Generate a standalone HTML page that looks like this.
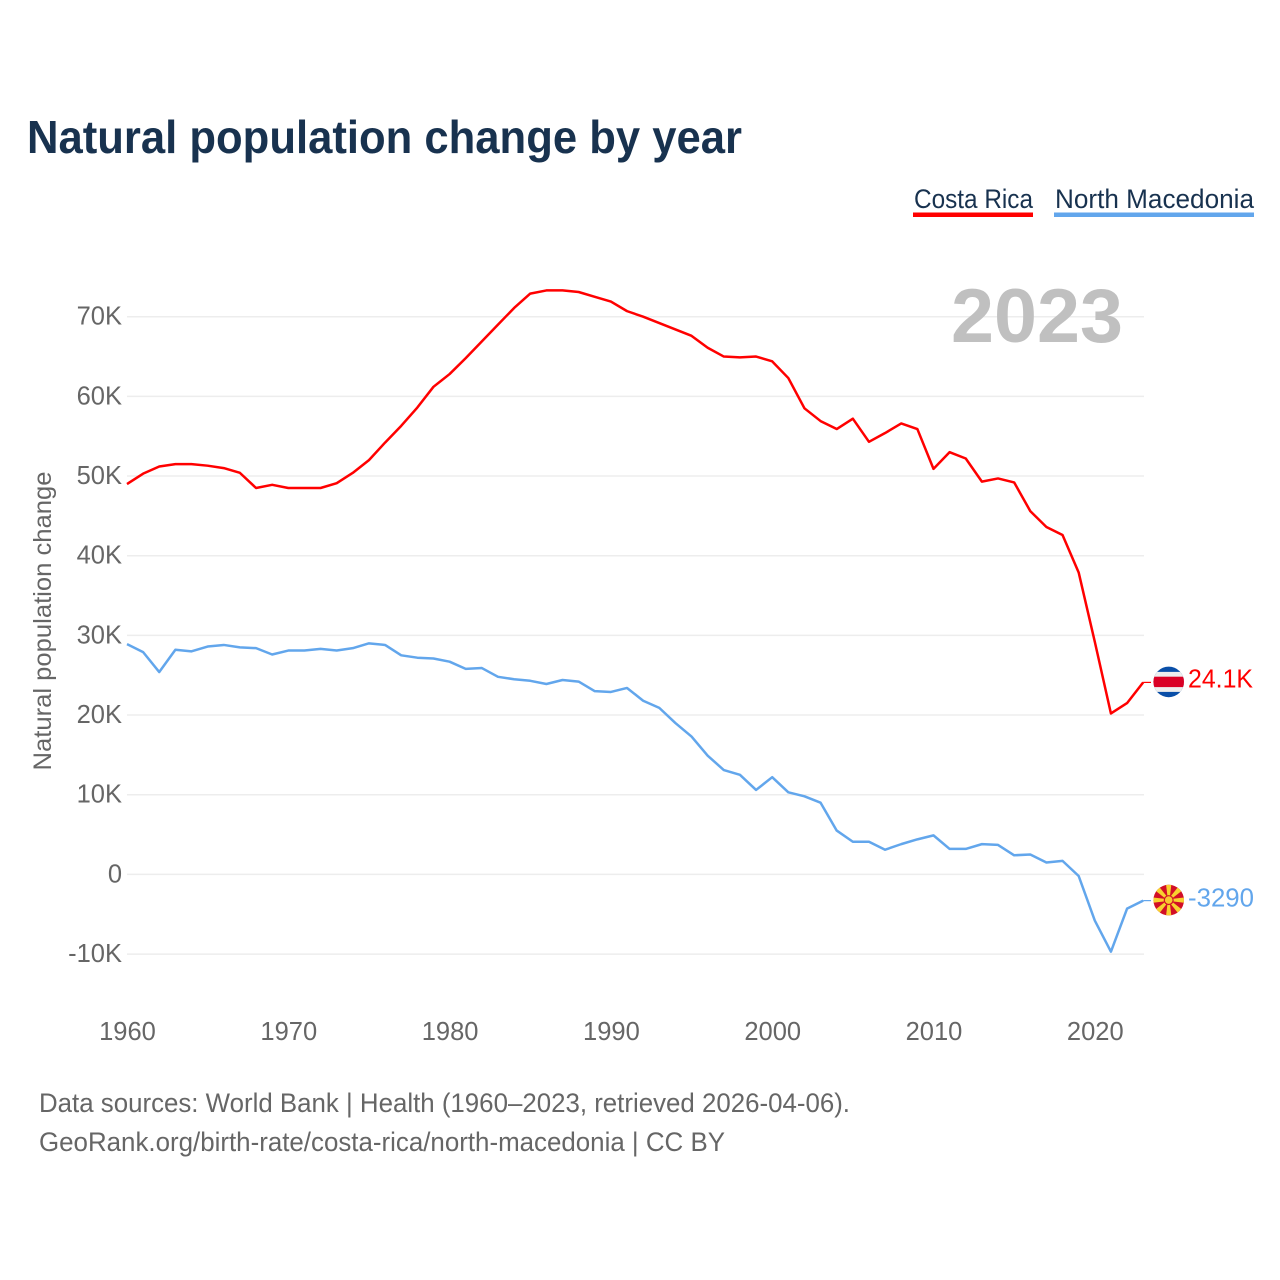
<!DOCTYPE html>
<html lang="en">
<head>
<meta charset="utf-8">
<title>Natural population change by year</title>
<style>
html,body{margin:0;padding:0;background:#fff;width:1280px;height:1280px;overflow:hidden}
svg{display:block;font-family:"Liberation Sans",sans-serif}
</style>
</head>
<body>
<svg id="chart" xmlns="http://www.w3.org/2000/svg" width="1280" height="1280" viewBox="0 0 1280 1280">
  <defs>
    <clipPath id="flag-clip-a"><circle cx="0" cy="0" r="15.3"></circle></clipPath>
  </defs>
  <text x="27" y="153" font-size="46" font-weight="700" fill="#18324f" textLength="715" lengthAdjust="spacingAndGlyphs">Natural population change by year</text>

  <g>
    <g>
      <text x="914" y="208" font-size="27" fill="#18324f" textLength="119" lengthAdjust="spacingAndGlyphs">Costa Rica</text>
      <rect x="913" y="212.5" width="120" height="4.5" fill="#ff0000"></rect>
    </g>
    <g>
      <text x="1055" y="208" font-size="27" fill="#18324f" textLength="199" lengthAdjust="spacingAndGlyphs">North Macedonia</text>
      <rect x="1054" y="212.5" width="200" height="4.5" fill="#62a6ec"></rect>
    </g>
  </g>

  <g id="grid"></g>
  <text x="951" y="342" font-size="76" font-weight="700" fill="#c0c0c0" textLength="172" lengthAdjust="spacingAndGlyphs">2023</text>
  <g id="yticks"></g>
  <g id="xticks"></g>
  <text transform="translate(51 621) rotate(-90)" text-anchor="middle" font-size="25" fill="#666666" textLength="299" lengthAdjust="spacingAndGlyphs">Natural population change</text>
  <g id="series"></g>
  <g id="ends"></g>

  <text x="39" y="1112" font-size="27" fill="#666666" textLength="811" lengthAdjust="spacingAndGlyphs">Data sources: World Bank | Health (1960–2023, retrieved 2026-04-06).</text>
  <text x="39" y="1151" font-size="27" fill="#666666" textLength="686" lengthAdjust="spacingAndGlyphs">GeoRank.org/birth-rate/costa-rica/north-macedonia | CC BY</text>
</svg>
<script>
const startYear = 1960;
const xTickYears = [1960, 1970, 1980, 1990, 2000, 2010, 2020];
const yTickValues = [-10, 0, 10, 20, 30, 40, 50, 60, 70];
const yTickLabels = ["-10K", "0", "10K", "20K", "30K", "40K", "50K", "60K", "70K"];
const costaRicaValues = [49.0,50.3,51.2,51.5,51.5,51.3,51.0,50.4,48.5,48.9,48.5,48.5,48.5,49.1,50.4,52.0,54.2,56.3,58.6,61.2,62.8,64.8,66.9,69.0,71.1,72.9,73.3,73.3,73.1,72.5,71.9,70.7,70.0,69.2,68.4,67.6,66.1,65.0,64.9,65.0,64.4,62.3,58.5,56.9,55.9,57.2,54.3,55.4,56.6,55.9,50.9,53.0,52.2,49.3,49.7,49.2,45.6,43.6,42.6,37.9,29.2,20.2,21.5,24.1];
const northMacedoniaValues = [28.9,27.9,25.4,28.2,28.0,28.6,28.8,28.5,28.4,27.6,28.1,28.1,28.3,28.1,28.4,29.0,28.8,27.5,27.2,27.1,26.7,25.8,25.9,24.8,24.5,24.3,23.9,24.4,24.2,23.0,22.9,23.4,21.8,20.9,19.0,17.3,14.9,13.1,12.5,10.6,12.2,10.3,9.8,9.0,5.5,4.1,4.1,3.1,3.8,4.4,4.9,3.2,3.2,3.8,3.7,2.4,2.5,1.5,1.7,-0.2,-5.8,-9.7,-4.3,-3.29];
const costaRicaEndLabel = "24.1K";
const northMacedoniaEndLabel = "-3290";

const NS = "http://www.w3.org/2000/svg";
function xScale(year) { return 127 + (year - 1960) * 16.13; }
function yScale(v) { return 874.4 - v * 7.967; }
function make(tag, attrs, parent) {
  const el = document.createElementNS(NS, tag);
  for (const k in attrs) el.setAttribute(k, attrs[k]);
  parent.appendChild(el);
  return el;
}

const grid = document.getElementById("grid");
const yticks = document.getElementById("yticks");
yTickValues.forEach(function (v, i) {
  const line = make("line", {x1: 127, x2: 1144, y1: yScale(v), y2: yScale(v), stroke: "#ededed", "stroke-width": 1.5}, grid);
  
  
  const t = make("text", {x: 122, y: yScale(v) + 8, "text-anchor": "end", "font-size": 25.5, fill: "#666666"}, yticks);
  
  
  t.textContent = yTickLabels[i];
});

const xticks = document.getElementById("xticks");
xTickYears.forEach(function (yr) {
  const t = make("text", {x: xScale(yr) + 0.5, y: 1040, "text-anchor": "middle", "font-size": 25.5, fill: "#666666"}, xticks);
  
  
  t.textContent = String(yr);
});

const seriesGroup = document.getElementById("series");
function drawLine(values, color) {
  const pts = values.map(function (v, i) { return xScale(startYear + i).toFixed(2) + "," + yScale(v).toFixed(2); }).join(" ");
  return make("polyline", {points: pts, fill: "none", stroke: color, "stroke-width": 2.5, "stroke-linejoin": "round"}, seriesGroup);
}
const lineA = drawLine(costaRicaValues, "#ff0000");


const lineB = drawLine(northMacedoniaValues, "#62a6ec");



const ends = document.getElementById("ends");
const lastX = xScale(startYear + costaRicaValues.length - 1);

/* Costa Rica end marker */
const yA = yScale(costaRicaValues[costaRicaValues.length - 1]);
const connA = make("line", {x1: lastX, x2: 1151, y1: yA, y2: yA, stroke: "#ff0000", "stroke-width": 1.2}, ends);


const flagA = make("g", {transform: "translate(1168.7 " + (yA - 0.5) + ")", "clip-path": "url(#flag-clip-a)"}, ends);


make("rect", {x: -16, y: -16, width: 32, height: 32, fill: "#0a4fa8"}, flagA);
make("rect", {x: -16, y: -10, width: 32, height: 20, fill: "#eeeeee"}, flagA);
make("rect", {x: -16, y: -5.2, width: 32, height: 10.4, fill: "#da0025"}, flagA);
const labA = make("text", {x: 1188, y: yA + 5, "font-size": 25.5, fill: "#ff0000", textLength: 65, lengthAdjust: "spacingAndGlyphs"}, ends);


labA.textContent = costaRicaEndLabel;

/* North Macedonia end marker */
const yB = yScale(northMacedoniaValues[northMacedoniaValues.length - 1]);
const connB = make("line", {x1: lastX, x2: 1151, y1: yB, y2: yB, stroke: "#62a6ec", "stroke-width": 1.2}, ends);


const flagB = make("g", {transform: "translate(1168.7 " + (yB - 0.5) + ")", "clip-path": "url(#flag-clip-a)"}, ends);


make("rect", {x: -16, y: -16, width: 32, height: 32, fill: "#d20f26"}, flagB);
for (let a = 0; a < 8; a++) {
  make("polygon", {points: "-0.8,0 0.8,0 2.8,17 -2.8,17", fill: "#f8d12f", transform: "rotate(" + (a * 45) + ")"}, flagB);
}
make("circle", {cx: 0, cy: 0, r: 5, fill: "#d20f26"}, flagB);
make("circle", {cx: 0, cy: 0, r: 3.8, fill: "#f8c62f"}, flagB);
const labB = make("text", {x: 1188, y: yB + 6, "font-size": 25.5, fill: "#62a6ec", textLength: 66, lengthAdjust: "spacingAndGlyphs"}, ends);


labB.textContent = northMacedoniaEndLabel;
</script>
</body>
</html>
